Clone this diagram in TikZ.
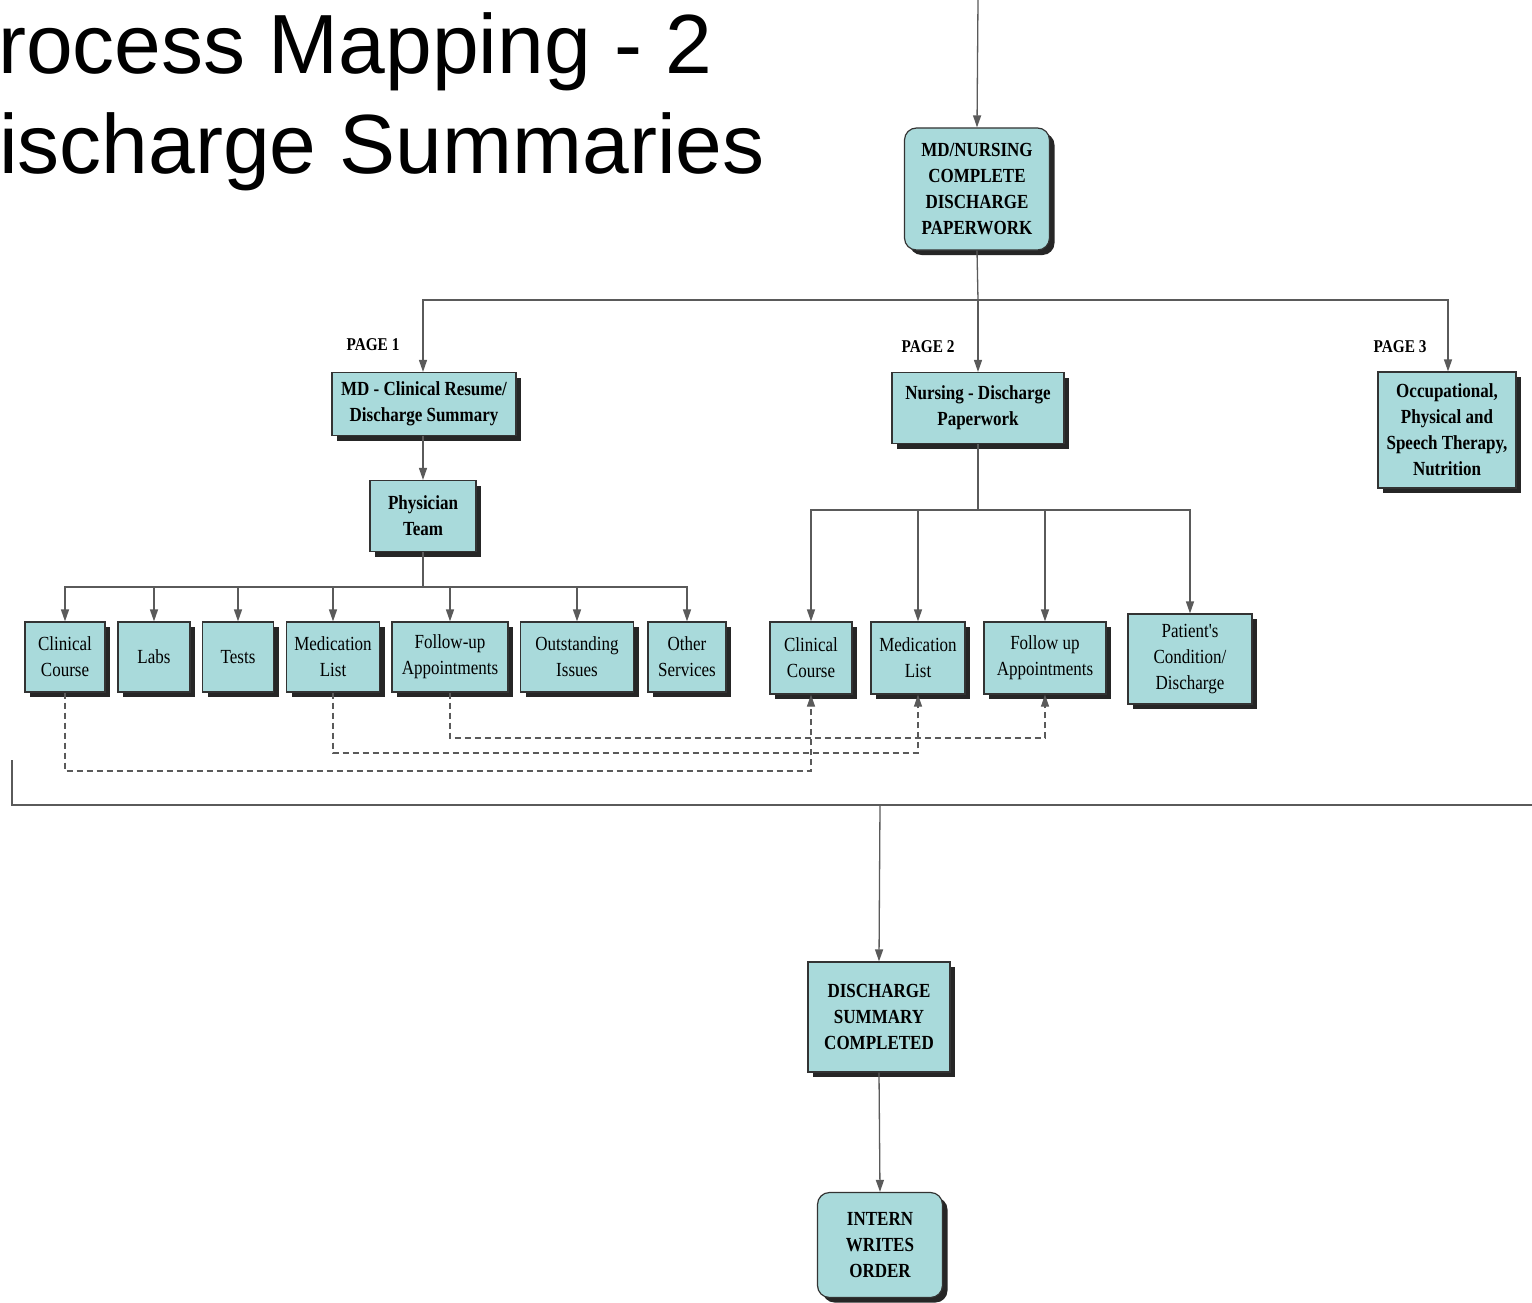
\documentclass[tikz,border=0pt]{standalone}
\usepackage{fontspec}
\setmainfont{Liberation Serif}
\newfontfamily\ttlfont{Liberation Sans}
\newfontfamily\bxfont[FakeStretch=0.85]{Liberation Serif}
\usetikzlibrary{arrows.meta,shadows,calc}
\definecolor{boxfill}{HTML}{A9DADB}
\definecolor{linegray}{HTML}{5A5A5A}
\tikzset{
  bx/.style={draw=black!80, line width=1.2pt, fill=boxfill, align=center, inner sep=0pt,
    drop shadow={shadow xshift=5pt, shadow yshift=-5pt, fill=black!85, opacity=1},
    font=\bxfont\fontsize{20}{26}\selectfont},
  bbx/.style={bx, font=\bxfont\bfseries\fontsize{20}{26}\selectfont},
  rbx/.style={bbx, rounded corners=12pt},
  ln/.style={draw=linegray, line width=1.3pt},
  arr/.style={ln, -{Triangle[length=12pt,width=8pt]}},
  darr/.style={draw=linegray, line width=1.1pt, dash pattern=on 6pt off 4pt, -{Triangle[length=12pt,width=8pt]}},
  pg/.style={font=\bxfont\bfseries\fontsize{18}{22}\selectfont, inner sep=0pt},
  ttl/.style={font=\ttlfont\fontsize{84}{100}\selectfont, inner sep=0pt, anchor=base west}
}
\begin{document}
\begin{tikzpicture}[x=1pt,y=-1pt]
\useasboundingbox (0,0) rectangle (1532,1303);
\fill[white] (0,0) rectangle (1532,1303);
% title
\node[ttl] (t1) at (-2,74) {rocess Mapping - 2};
\node[ttl] (t2) at (-1,174) {ischarge Summaries};
% top
\node[rbx, minimum width=145pt, minimum height=122pt] (mdn) at (977,189) {MD/NURSING\\COMPLETE\\DISCHARGE\\PAPERWORK};
\coordinate (top) at (978,0);
\draw[arr] (top) -- (mdn.north);
% page level
\node[bbx, minimum width=184pt, minimum height=63pt] (mdr) at (424,404) {MD - Clinical Resume/\\Discharge Summary};
\node[bbx, minimum width=172pt, minimum height=71pt] (nurs) at (978,408) {Nursing - Discharge\\Paperwork};
\node[bbx, minimum width=138pt, minimum height=116pt] (occ) at (1447,430) {Occupational,\\Physical and\\Speech Therapy,\\Nutrition};
\node[pg] (pg1) at (373,345) {PAGE 1};
\node[pg] (pg2) at (928,347) {PAGE 2};
\node[pg] (pg3) at (1400,347) {PAGE 3};
\coordinate (b1) at (978,300);
\draw[ln] (mdn.south) -- (b1);
\draw[arr] (b1) -- (nurs.north);
\draw[arr] (b1) -| (mdr.north -| 423,0);
\draw[arr] (b1) -| (occ.north -| 1448,0);
% physician
\node[bbx, minimum width=106pt, minimum height=71pt] (phys) at (423,516) {Physician\\Team};
\draw[arr] (mdr.south -| phys) -- (phys.north);
% left row
\node[bx, minimum width=80pt, minimum height=70pt] (cc1) at (65,657) {Clinical\\Course};
\node[bx, minimum width=72pt, minimum height=70pt] (labs) at (154,657) {Labs};
\node[bx, minimum width=71pt, minimum height=70pt] (tests) at (238,657) {Tests};
\node[bx, minimum width=93pt, minimum height=70pt] (ml1) at (333,657) {Medication\\List};
\node[bx, minimum width=116pt, minimum height=70pt] (fu1) at (450,657) {Follow-up\\Appointments};
\node[bx, minimum width=113pt, minimum height=70pt] (oi) at (577,657) {Outstanding\\Issues};
\node[bx, minimum width=78pt, minimum height=70pt] (os) at (687,657) {Other\\Services};
\coordinate (p2) at (423,587);
\draw[ln] (phys.south) -- (p2);
\foreach \n in {cc1,labs,tests,ml1,fu1,oi,os} \draw[arr] (p2) -| (\n.north);
% right row
\node[bx, minimum width=82pt, minimum height=72pt] (cc2) at (811,658) {Clinical\\Course};
\node[bx, minimum width=94pt, minimum height=72pt] (ml2) at (918,658) {Medication\\List};
\node[bx, minimum width=122pt, minimum height=72pt] (fu2) at (1045,658) {Follow up\\Appointments};
\node[bx, minimum width=124pt, minimum height=90pt] (pc) at (1190,659) {Patient's\\Condition/\\Discharge};
\coordinate (n2) at (978,510);
\draw[ln] (nurs.south) -- (n2);
\foreach \n in {cc2,ml2,fu2,pc} \draw[arr] (n2) -| (\n.north);
% dashed links
\coordinate (y1) at (0,771);
\coordinate (y2) at (0,753);
\coordinate (y3) at (0,738);
\draw[darr] (cc1.south) -- (cc1.south |- y1) -| (cc2.south);
\draw[darr] (ml1.south) -- (ml1.south |- y2) -| (ml2.south);
\draw[darr] (fu1.south) -- (fu1.south |- y3) -| (fu2.south);
% bottom bracket
\coordinate (brT) at (12,760);
\coordinate (brB) at (12,805);
\coordinate (brR) at (1532,805);
\coordinate (dj) at (880,805);
\draw[ln] (brT) -- (brB) -- (brR);
\node[bbx, minimum width=142pt, minimum height=110pt] (dsc) at (879,1017) {DISCHARGE\\SUMMARY\\COMPLETED};
\node[rbx, minimum width=125pt, minimum height=105pt] (iwo) at (880,1245) {INTERN\\WRITES\\ORDER};
\draw[arr] (dj) -- (dsc.north);
\draw[arr] (dsc.south) -- (iwo.north);
\end{tikzpicture}
\end{document}
